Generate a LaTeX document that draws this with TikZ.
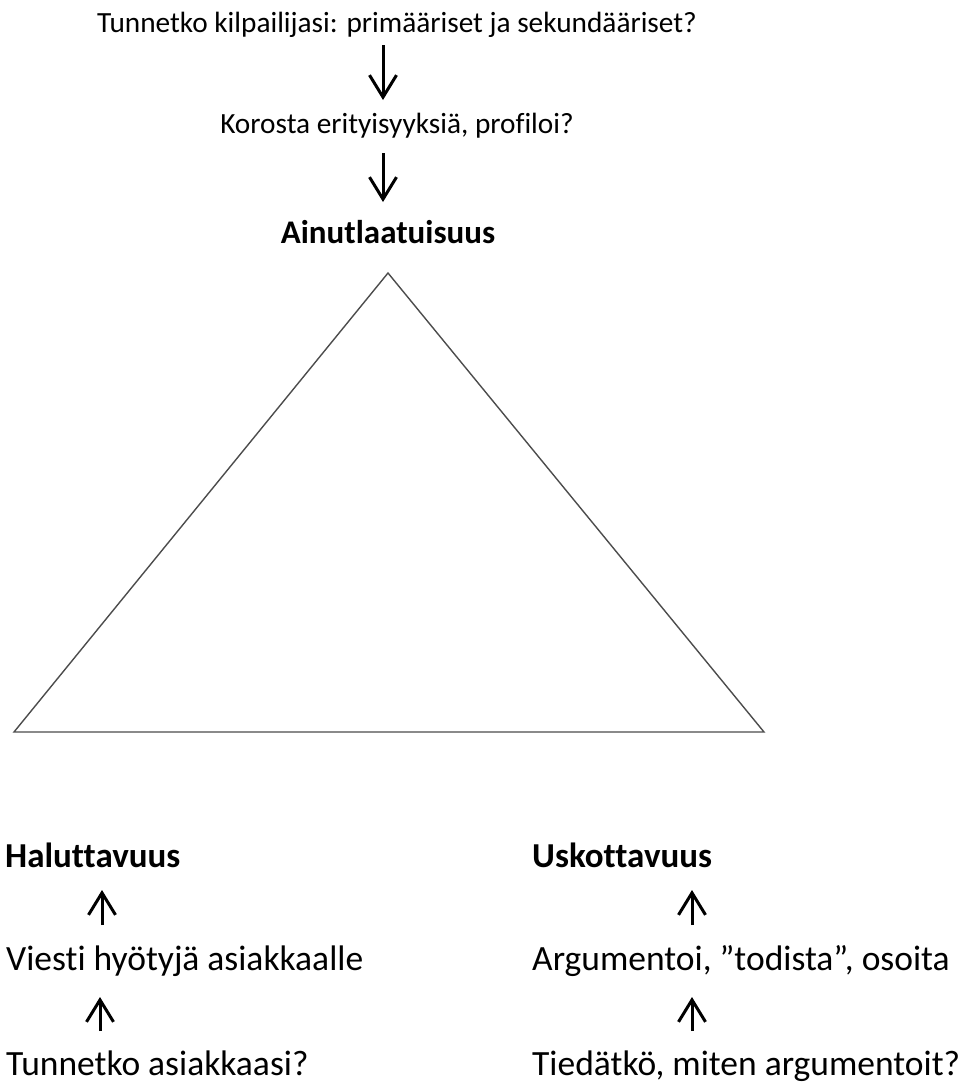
\documentclass[tikz,border=0pt]{standalone}
\usepackage{fontspec}
\setmainfont{Carlito}[Ligatures=NoCommon]
\usetikzlibrary{arrows.meta}
\begin{document}
\begin{tikzpicture}[x=1pt,y=-1pt,
  toptxt/.style={inner sep=0pt, font=\fontsize{29.3}{34}\selectfont},
  txt/.style={inner sep=0pt, font=\fontsize{35.5}{40}\selectfont},
  head/.style={inner sep=0pt, font=\bfseries\fontsize{35}{40}\selectfont},
  arr/.style={line width=3pt, -{Straight Barb[length=22pt,width=27pt,line width=3pt]}},
  tri/.style={draw=black!70, line width=1.4pt, line join=miter}]
\useasboundingbox (0,0) rectangle (966,1084);
% top chain
\node[toptxt, anchor=base] (q1) at (397,32) {Tunnetko kilpailijasi: primääriset ja sekundääriset?};
\node[toptxt, anchor=base] (q2) at (397,133) {Korosta erityisyyksiä, profiloi?};
\node[head, anchor=base, font=\bfseries\fontsize{33}{38}\selectfont] (ain) at (388,243) {Ainutlaatuisuus};
\coordinate (a1s) at (383,45);
\coordinate (a1e) at (383,100);
\coordinate (a2s) at (383,153);
\coordinate (a2e) at (383,202);
\draw[arr] (a1s) -- (a1e);
\draw[arr] (a2s) -- (a2e);
% triangle
\coordinate (apex) at (388,273);
\coordinate (bl) at (14,732);
\coordinate (br) at (764,732);
\draw[tri] (apex) -- (bl) -- (br) -- cycle;
% left column
\node[head, anchor=base west] (hal) at (5,867) {Haluttavuus};
\node[txt, anchor=base west] (vie) at (6,970) {Viesti hyötyjä asiakkaalle};
\node[txt, anchor=base west] (tun) at (6,1075) {Tunnetko asiakkaasi?};
\coordinate (l1s) at (102,925);
\coordinate (l1e) at (102,890);
\coordinate (l2s) at (100,1031);
\coordinate (l2e) at (100,997);
\draw[arr] (l1s) -- (l1e);
\draw[arr] (l2s) -- (l2e);
% right column
\node[head, anchor=base west] (usk) at (532,867) {Uskottavuus};
\node[txt, anchor=base west] (arg) at (532,970) {Argumentoi, ”todista”, osoita};
\node[txt, anchor=base west] (tie) at (532,1075) {Tiedätkö, miten argumentoit?};
\coordinate (r1s) at (692,925);
\coordinate (r1e) at (692,890);
\coordinate (r2s) at (692,1031);
\coordinate (r2e) at (692,997);
\draw[arr] (r1s) -- (r1e);
\draw[arr] (r2s) -- (r2e);
\end{tikzpicture}
\end{document}
